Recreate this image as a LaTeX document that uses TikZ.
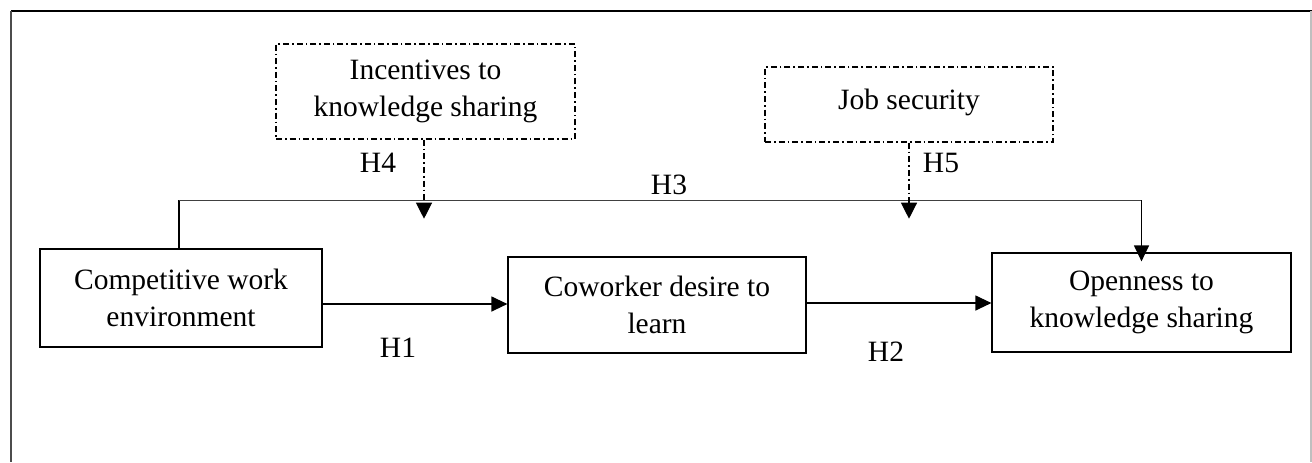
\documentclass[tikz,border=0pt]{standalone}
\usepackage{fontspec}
\setmainfont{Liberation Serif}
\usetikzlibrary{arrows.meta}
\tikzset{
  box/.style={draw=black, line width=0.6pt, align=center, inner sep=0pt,
    font=\fontsize{14.75pt}{18.5pt}\selectfont},
  modbox/.style={box, line width=0.7pt, dash pattern=on 3pt off 1.5pt on 0.8pt off 1.5pt},
  modline/.style={line width=0.6pt, dash pattern=on 3pt off 1.5pt on 0.8pt off 1.5pt,
    -{Triangle[length=8pt,width=8pt]}},
  link/.style={line width=0.6pt, -{Triangle[length=8pt,width=7.5pt]}},
  hyp/.style={font=\fontsize{14.75pt}{18.5pt}\selectfont, inner sep=0pt}
}
\begin{document}
\begin{tikzpicture}[x=0.5pt, y=-0.5pt]
\useasboundingbox (0,0) rectangle (1312,462);
% outer frame
\draw[line width=1pt, black] (11,11) -- (1312,11);
\draw[line width=1pt, black!70] (11,11) -- (11,462);
\draw[line width=0.6pt, black!25] (1311,11) -- (1311,462);

% main constructs
\node[box, minimum width=141pt, minimum height=49pt] (comp) at (181,298)
  {Competitive work\\environment};
\node[box, minimum width=149pt, minimum height=48pt] (cow) at (657,305)
  {Coworker desire to\\learn};
\node[box, minimum width=149.5pt, minimum height=49.5pt] (open) at (1141.5,302.5)
  {Openness to\\knowledge sharing};

% moderators
\node[modbox, minimum width=149.5pt, minimum height=47.5pt] (inc) at (425.5,91.5)
  {Incentives to\\knowledge sharing};
\node[modbox, minimum width=144pt, minimum height=37.5pt] (job) at (909,104.5)
  {\raisebox{4.75pt}{Job security}};

% direct paths
\draw[link] (comp.east |- 0,304) -- (cow.west |- 0,304);
\draw[link] (cow.east |- 0,303) -- (open.west |- 0,303);

% path H3 over the top
\path (comp.north) ++(-2,-48) coordinate (hl);
\draw[line width=0.7pt] (comp.north -| hl) -- (hl);
\draw[line width=0.9pt, black!75] (hl) -- (hl -| open.north);
\draw[link, shorten >=-4.5pt] (hl -| open.north) -- (open.north);

% moderating paths
\path (inc.south -| 424,0) ++(0,79) coordinate (m4);
\path (job.south) ++(0,76) coordinate (m5);
\draw[modline] (inc.south -| 424,0) -- (m4);
\draw[modline] (job.south) -- (m5);

% hypothesis labels
\node[hyp] (h4) at (378,163) {H4};
\node[hyp] (h3) at (669,185) {H3};
\node[hyp] (h5) at (941,163) {H5};
\node[hyp] (h1) at (398,348) {H1};
\node[hyp] (h2) at (886,352) {H2};
\end{tikzpicture}
\end{document}
